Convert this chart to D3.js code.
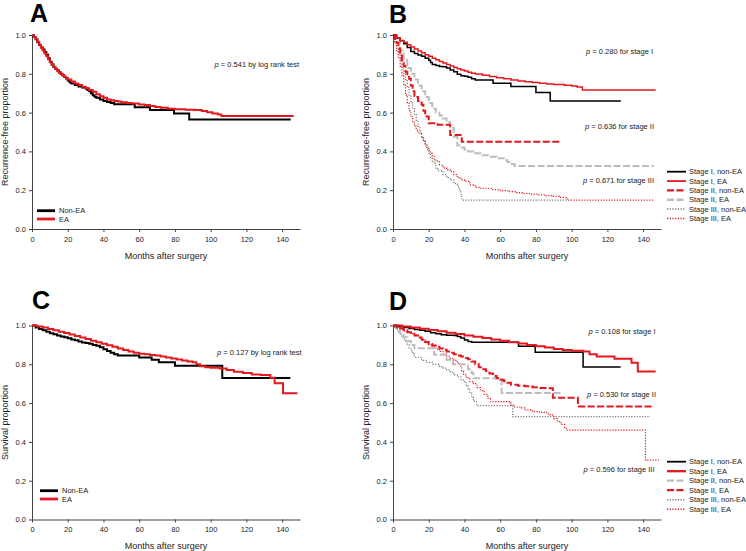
<!DOCTYPE html>
<html><head><meta charset="utf-8">
<script src="https://cdn.jsdelivr.net/npm/d3@7"></script>
<style>body{margin:0;background:#fff}svg{display:block;font-family:"Liberation Sans",Arial,sans-serif}</style>
</head><body><svg id="c" width="746" height="551"></svg>
<script>
// ---------- data ----------
const monthTicks = [0, 20, 40, 60, 80, 100, 120, 140];
const propTicks = [0, 0.2, 0.4, 0.6, 0.8, 1.0];

// Panel A: recurrence-free, [month, proportion]
const rfsNonEA = [[0,1],[1,.99],[2,.978],[3,.963],[4,.948],[5,.935],[6,.925],[7,.912],[8,.898],[9,.88],[10,.862],[11,.848],[12,.835],[13,.826],[14,.818],[15,.808],[16,.8],[17,.792],[18,.784],[19,.776],[20,.765],[21,.757],[22,.75],[24,.742],[26,.735],[28,.73],[30,.724],[31,.716],[32,.71],[33,.7],[34,.69],[35,.682],[36,.676],[38,.668],[40,.66],[42,.655],[44,.65],[46,.643],[57.5,.627],[66,.613],[79.5,.596],[88,.565],[144.8,.565]];
const rfsEA = [[0,1],[1,.99],[2,.98],[3,.965],[4,.95],[5,.935],[6,.92],[7,.905],[8,.89],[9,.875],[10,.86],[11,.848],[12,.836],[13,.826],[14,.816],[15,.807],[16,.799],[17,.792],[18,.785],[19,.778],[20,.771],[22,.76],[24,.75],[26,.742],[28,.733],[30,.725],[32,.717],[34,.707],[36,.695],[38,.684],[40,.676],[42,.668],[44,.664],[46,.66],[48,.657],[50,.653],[53,.65],[56,.647],[60,.642],[63,.639],[66,.634],[69,.629],[72,.625],[76,.62],[80,.617],[86,.615],[91,.613],[95,.608],[98,.602],[101,.596],[104,.59],[106,.582],[146.5,.582]];

// Panel B: recurrence-free by stage
const rfsS1NonEA = [[0,1],[2,.985],[4,.97],[6,.955],[8,.935],[10,.915],[12,.905],[14,.897],[16,.89],[18,.88],[20,.87],[21,.858],[22,.848],[24,.843],[26,.838],[28,.836],[30,.83],[32,.82],[34,.81],[36,.798],[38,.79],[40,.787],[42,.782],[44,.775],[46,.768],[56,.751],[66,.734],[80,.703],[88,.66],[127.5,.66]];
const rfsS1EA = [[0,1],[2,.985],[4,.972],[6,.962],[8,.95],[10,.938],[12,.928],[14,.918],[16,.908],[18,.898],[20,.89],[22,.88],[24,.872],[26,.864],[28,.856],[30,.848],[32,.84],[34,.833],[36,.826],[38,.82],[40,.814],[42,.808],[44,.803],[46,.799],[50,.792],[54,.786],[58,.78],[62,.774],[66,.768],[70,.763],[74,.759],[78,.755],[82,.751],[86,.748],[90,.745],[96,.741],[100,.737],[103,.732],[106,.716],[147,.716]];
const rfsS2NonEA = [[0,1],[1,.98],[2,.96],[3,.93],[4,.9],[5,.87],[6,.84],[7,.81],[8,.79],[9,.775],[10,.74],[11,.71],[12,.685],[13,.68],[14,.66],[16,.64],[17,.61],[18,.58],[20,.545],[25,.537],[32,.485],[38.5,.45],[94,.45]];
const rfsS2EA = [[0,1],[2,.96],[4,.92],[6,.88],[8,.83],[10,.8],[12,.77],[14,.74],[16,.71],[18,.68],[20,.65],[22,.62],[24,.6],[26,.585],[28,.57],[30,.55],[32,.52],[34,.476],[36,.43],[38,.42],[40,.41],[42,.4],[45,.39],[50,.38],[54,.373],[58,.365],[62,.356],[64,.345],[66,.335],[68,.325],[146,.325]];
const rfsS3NonEA = [[0,1],[1,.96],[2,.93],[3,.9],[4,.87],[5,.83],[6,.8],[7,.77],[8,.73],[9,.69],[10,.65],[11,.62],[12,.59],[13,.56],[14,.53],[15,.5],[16,.47],[17,.45],[18,.43],[19,.41],[20,.39],[21,.37],[22,.35],[23,.338],[24,.31],[25,.3],[28,.28],[30,.265],[32,.253],[34,.24],[35,.23],[36,.22],[37,.2],[38,.17],[38.5,.149],[97,.149]];
const rfsS3EA = [[0,1],[1,.96],[2,.92],[3,.88],[4,.84],[5,.79],[6,.74],[7,.69],[8,.65],[9,.61],[10,.58],[11,.55],[12,.53],[13,.51],[14,.5],[15,.49],[16,.47],[17,.455],[18,.44],[19,.42],[20,.405],[21,.39],[22,.375],[23,.36],[24,.35],[26,.33],[28,.315],[30,.305],[32,.296],[34,.28],[36,.265],[38,.253],[40,.245],[43,.227],[46,.215],[49,.21],[55,.203],[60,.198],[65,.193],[69,.187],[73,.183],[77,.18],[81,.176],[85,.172],[89,.168],[93,.163],[97.5,.149],[145.5,.149]];

// Panel C: overall survival
const osNonEA = [[0,1],[2,.99],[4,.982],[6,.976],[8,.968],[10,.96],[12,.955],[14,.948],[16,.943],[18,.94],[20,.934],[22,.928],[24,.924],[26,.918],[28,.912],[30,.91],[32,.906],[34,.9],[36,.895],[38,.888],[40,.878],[42,.868],[44,.86],[46,.852],[48,.845],[60,.835],[67,.823],[71,.81],[80,.792],[106.5,.73],[144.6,.73]];
const osEA = [[0,1],[3,.995],[6,.99],[9,.982],[12,.975],[15,.968],[18,.961],[21,.953],[24,.946],[27,.938],[30,.93],[33,.922],[36,.914],[39,.906],[42,.898],[45,.89],[48,.882],[51,.874],[54,.866],[57,.859],[60,.855],[63,.852],[66,.848],[69,.845],[72,.84],[75,.835],[78,.83],[81,.825],[84,.82],[87,.815],[90,.81],[92,.8],[94,.79],[97,.785],[100,.782],[105,.778],[109,.77],[113,.762],[118,.755],[123,.748],[128,.745],[133.4,.731],[135.8,.702],[140.5,.651],[148.5,.651]];

// Panel D: overall survival by stage
const osS1NonEA = [[0,1],[3,.995],[6,.99],[9,.985],[12,.98],[15,.975],[18,.97],[21,.963],[24,.958],[27,.952],[30,.95],[34,.948],[36,.943],[38,.935],[40,.925],[42,.918],[44,.914],[70.3,.893],[79.6,.862],[106.4,.786],[127.4,.786]];
const osS1EA = [[0,1],[5,.995],[10,.99],[15,.983],[20,.977],[25,.97],[30,.963],[35,.956],[40,.949],[45,.942],[50,.935],[55,.928],[60,.921],[65,.914],[70,.907],[75,.9],[80,.893],[85,.886],[90,.879],[95,.874],[100,.87],[106.5,.866],[110,.852],[114,.84],[124,.828],[133.5,.808],[137,.763],[147,.763]];
const osS2NonEA = [[0,1],[2,.985],[4,.96],[6,.94],[8,.92],[10,.9],[12,.883],[23,.849],[30,.823],[33.5,.8],[42,.775],[44,.755],[45,.728],[60.8,.652],[94,.652]];
const osS2EA = [[0,1],[2,.99],[4,.985],[6,.975],[8,.965],[10,.958],[12,.948],[14,.938],[16,.928],[18,.915],[20,.905],[22,.897],[24,.89],[26,.882],[28,.875],[30,.866],[32,.86],[34,.852],[36,.845],[38,.84],[40,.833],[42,.826],[44,.815],[46,.8],[48,.785],[50,.775],[52,.765],[54,.752],[56,.74],[58,.728],[60,.72],[62,.712],[64,.705],[66,.695],[70,.69],[74,.687],[78,.682],[82,.678],[86,.676],[89.5,.627],[103.5,.583],[145,.583]];
const osS3NonEA = [[0,1],[1,.99],[2,.978],[3,.965],[4,.955],[5,.943],[6,.93],[7,.915],[8,.9],[9,.885],[10,.87],[11,.855],[12,.835],[16,.82],[19,.81],[22,.8],[26,.788],[28,.78],[30,.771],[32,.76],[34,.745],[36,.735],[38,.72],[40,.705],[41,.69],[42,.675],[43,.655],[44,.63],[45,.61],[46.8,.587],[67,.53],[144,.53]];
const osS3EA = [[0,1],[2,.99],[4,.978],[6,.972],[8,.965],[10,.958],[12,.95],[14,.938],[16,.925],[18,.912],[20,.9],[22,.89],[24,.878],[26,.866],[28,.853],[30,.842],[32,.83],[34,.82],[36,.805],[37.5,.79],[38.5,.765],[39.5,.745],[41,.73],[43,.711],[45,.7],[47,.68],[49,.665],[51,.645],[53,.625],[54.5,.608],[65,.6],[66,.59],[68,.58],[71,.575],[74,.565],[78,.556],[82,.552],[86,.545],[88,.539],[90,.52],[92,.505],[94,.49],[96,.475],[97,.461],[141.3,.306],[148.8,.306]];

// ---------- styles ----------
const RED = "#e3191f", BLACK = "#000", LGREY = "#bdbdbd", DGREY = "#7a7a7a";
const sSolidBlack = {color: BLACK, width: 2, dash: null};
const sSolidRed = {color: RED, width: 2, dash: null};
const sThinBlack = {color: BLACK, width: 1.5, dash: null};
const sThinRed = {color: RED, width: 1.5, dash: null};
const sDashRed = {color: RED, width: 2, dash: "7,2.5"};
const sDashGrey = {color: LGREY, width: 2, dash: "7,2.5"};
const sDotGrey = {color: DGREY, width: 1.2, dash: "1.2,1.5"};
const sDotRed = {color: RED, width: 1.2, dash: "1.2,1.5"};

const panels = [
  {letter: "A", lx: 30, ly: 22, left: 32, top: 35, ytitle: "Recurrence-free proportion", ytx: 7.5,
   series: [[rfsNonEA, sSolidBlack], [rfsEA, sSolidRed]],
   legend: {x1: 37, x2: 55, tx: 59, y: 210.7, dy: 8.3, items: [["Non-EA", {color: BLACK, width: 2.5}], ["EA", {color: RED, width: 2.5}]]},
   notes: [{x: 299, y: 67, p: "0.541 by log rank test"}]},
  {letter: "B", lx: 389, ly: 22.5, left: 393, top: 35, ytitle: "Recurrence-free proportion", ytx: 368.5,
   series: [[rfsS3NonEA, sDotGrey], [rfsS3EA, sDotRed], [rfsS2EA, sDashGrey], [rfsS2NonEA, sDashRed], [rfsS1NonEA, sThinBlack], [rfsS1EA, sThinRed]],
   legend: {x1: 667, x2: 686, tx: 689, y: 171.7, dy: 9.35, items: [["Stage I, non-EA", sThinBlack], ["Stage I, EA", sThinRed], ["Stage II, non-EA", sDashRed], ["Stage II, EA", sDashGrey], ["Stage III, non-EA", sDotGrey], ["Stage III, EA", sDotRed]]},
   notes: [{x: 653, y: 54, p: "0.280 for stage I"}, {x: 654, y: 128.5, p: "0.636 for stage II"}, {x: 654, y: 182.5, p: "0.671 for stage III"}]},
  {letter: "C", lx: 32, ly: 308.5, left: 32, top: 325.5, ytitle: "Survival proportion", ytx: 7.5,
   series: [[osNonEA, sSolidBlack], [osEA, sSolidRed]],
   legend: {x1: 40, x2: 58, tx: 62, y: 490.7, dy: 8.3, items: [["Non-EA", {color: BLACK, width: 2.5}], ["EA", {color: RED, width: 2.5}]]},
   notes: [{x: 301.5, y: 355, p: "0.127 by log rank test"}]},
  {letter: "D", lx: 389, ly: 309.5, left: 393, top: 325.5, ytitle: "Survival proportion", ytx: 368.5,
   series: [[osS3NonEA, sDotGrey], [osS3EA, sDotRed], [osS2NonEA, sDashGrey], [osS2EA, sDashRed], [osS1NonEA, sThinBlack], [osS1EA, sSolidRed]],
   legend: {x1: 667, x2: 686, tx: 689, y: 461.7, dy: 9.5, items: [["Stage I, non-EA", sThinBlack], ["Stage I, EA", sSolidRed], ["Stage II, non-EA", sDashGrey], ["Stage II, EA", sDashRed], ["Stage III, non-EA", sDotGrey], ["Stage III, EA", sDotRed]]},
   notes: [{x: 655.5, y: 333.5, p: "0.108 for stage I"}, {x: 656, y: 397, p: "0.530 for stage II"}, {x: 654.5, y: 471.5, p: "0.596 for stage III"}]}
];

const W = 268, H = 194;
const svg = d3.select("#c");
const AX = "#444", TXT = "#222";

panels.forEach(P => {
  const x = d3.scaleLinear().domain([0, 150]).range([0, W]);
  const y = d3.scaleLinear().domain([0, 1]).range([H, 0]);

  svg.append("text").attr("x", P.lx).attr("y", P.ly).attr("font-size", 25).attr("font-weight", "bold").attr("fill", "#000").text(P.letter);

  const g = svg.append("g").attr("transform", `translate(${P.left},${P.top})`);

  const xa = g.append("g").attr("transform", `translate(0,${H})`)
    .call(d3.axisBottom(x).tickValues(monthTicks).tickSize(3).tickPadding(4.5).tickSizeOuter(0));
  const ya = g.append("g")
    .call(d3.axisLeft(y).tickValues(propTicks).tickFormat(d3.format(".1f")).tickSize(3).tickPadding(3).tickSizeOuter(0));
  [xa, ya].forEach(a => {
    a.select(".domain").attr("stroke", AX).attr("stroke-width", 1);
    a.selectAll(".tick line").attr("stroke", AX);
    a.selectAll(".tick text").attr("fill", TXT).attr("font-size", 7.5).attr("font-family", '"Liberation Sans",Arial,sans-serif');
  });

  const line = d3.line().x(d => x(d[0])).y(d => y(d[1])).curve(d3.curveStepAfter);
  P.series.forEach(([data, st]) => {
    g.append("path").datum(data).attr("d", line).attr("fill", "none")
      .attr("stroke", st.color).attr("stroke-width", st.width)
      .attr("stroke-dasharray", st.dash);
  });

  // axis titles
  svg.append("text").attr("x", P.left + W / 2).attr("y", P.top + H + 29.5)
    .attr("text-anchor", "middle").attr("font-size", 9).attr("fill", TXT).text("Months after surgery");
  svg.append("text").attr("transform", `translate(${P.ytx},${P.top + H / 2}) rotate(-90)`)
    .attr("text-anchor", "middle").attr("font-size", 9).attr("fill", TXT).text(P.ytitle);

  // legend
  const L = P.legend;
  L.items.forEach(([label, st], i) => {
    const yy = L.y + i * L.dy;
    svg.append("line").attr("x1", L.x1).attr("x2", L.x2).attr("y1", yy).attr("y2", yy)
      .attr("stroke", st.color).attr("stroke-width", st.width + 0.3).attr("stroke-dasharray", st.dash || null);
    svg.append("text").attr("x", L.tx).attr("y", yy + 2.6).attr("font-size", 7.5).attr("fill", TXT).text(label);
  });

  // p-value notes
  P.notes.forEach(n => {
    const t = svg.append("text").attr("x", n.x).attr("y", n.y).attr("text-anchor", "end").attr("font-size", 7.5).attr("fill", TXT);
    t.append("tspan").attr("font-style", "italic").text("p");
    t.append("tspan").text(" = " + n.p);
  });
});
</script></body></html>
